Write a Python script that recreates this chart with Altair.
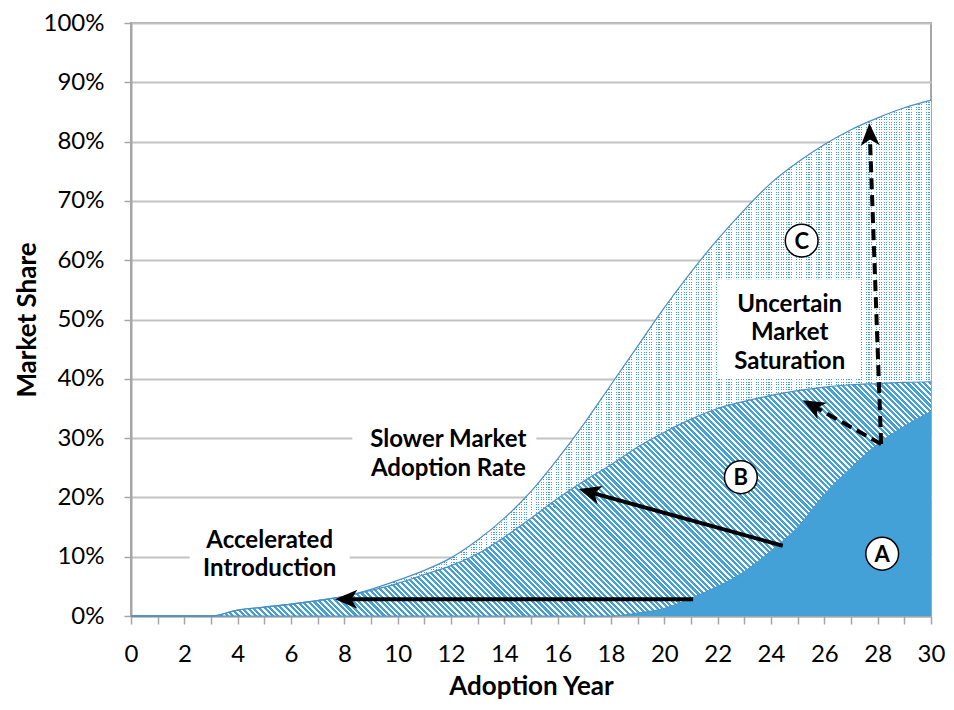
import math
import altair as alt
import pandas as pd

# ---------------- data ----------------
years = list(range(0, 31))
# cumulative (stacked) curve tops, in percent
a_top = [0, 0, 0, 0, 0, 0, 0, 0, 0, 0, 0, 0, 0, 0, 0, 0, 0, 0, 0, 0.5, 1.3,
         3.0, 5.0, 7.5, 11.0, 15.0, 20.5, 25.0, 29.0, 32.0, 34.5]
b_top = [0, 0, 0, 0, 1.0, 1.5, 2.0, 2.6, 3.3, 4.3, 5.5, 7.0, 8.5, 10.5, 13.3,
         16.5, 19.8, 22.8, 25.5, 28.5, 31.0, 33.2, 35.0, 36.2, 37.2, 38.0,
         38.6, 39.0, 39.2, 39.4, 39.5]
c_top = [0, 0, 0, 0, 1.0, 1.5, 2.0, 2.6, 3.3, 4.5, 6.0, 7.7, 9.8, 12.8, 16.5,
         21.0, 26.5, 32.5, 39.0, 45.5, 52.0, 58.0, 63.5, 68.5, 73.0, 76.5,
         79.5, 82.0, 84.0, 85.7, 87.0]

# annotation text lines
note_text = ["Slower Market", "Adoption Rate", "Accelerated", "Introduction",
             "Uncertain", "Market", "Saturation"]
note_x = [11.9, 11.9, 5.2, 5.2, 24.7, 24.7, 24.7]
note_y = [29.6, 24.8, 12.7, 8.0, 52.4, 47.7, 42.9]

# white boxes behind annotations (x0, x1, y0, y1)
box_x = [8.3, 2.2, 22.0]
box_x2 = [15.2, 8.2, 27.35]
box_y = [22.6, 5.3, 40.0]
box_y2 = [33.0, 15.6, 56.8]

# circled labels
circ_label = ["A", "B", "C"]
circ_x = [28.17, 22.87, 25.15]
circ_y = [10.5, 23.4, 63.3]

# arrows: tail -> tip
arr_x = [21.08, 24.44, 28.13, 28.13]
arr_y = [2.84, 11.85, 29.0, 29.0]
arr_tx = [7.65, 16.79, 25.19, 27.69]
arr_ty = [2.84, 21.4, 36.4, 83.1]
arr_dash = [False, False, True, True]

# ---------------- layout ----------------
W, H = 800, 593
PXX = W / 30.0
PXY = H / 100.0

BLUE = "#44A1D8"
EDGE = "#4A8FC2"
FONT = "Lato"


def stripes(c1, c2, length, period, frac, x1, y1, x2, y2):
    """Hard-edged repeating stripes along the gradient vector (period in px)."""
    stops = []
    k = 0
    while True:
        a = k * period / length
        if a >= 1:
            break
        b = min(1.0, (k + frac) * period / length)
        c = min(1.0, (k + 1) * period / length)
        stops += [{"offset": round(a, 6), "color": c1},
                  {"offset": round(b, 6), "color": c1},
                  {"offset": round(b, 6), "color": c2},
                  {"offset": round(c, 6), "color": c2}]
        k += 1
    return {"gradient": "linear", "x1": x1, "y1": y1, "x2": x2, "y2": y2,
            "stops": stops}


def diag_hatch(bw, bh, period, c1, c2, frac):
    s = (bw + bh) / (bw * bw + bh * bh)
    return stripes(c1, c2, bw + bh, period, frac, 0, 1, s * bw, 1 - s * bh)


x_axis = alt.Axis(values=list(range(0, 31)),
                  labelExpr="datum.value % 2 == 0 ? datum.label : ''",
                  tickSize=8, tickColor="#A6A6A6", tickWidth=1.5,
                  domainColor="#A6A6A6", domainWidth=2,
                  labelFont=FONT, labelFontSize=24, labelColor="black",
                  labelPadding=18, labelFlush=False, labelOverlap=False,
                  title="Adoption Year", titleFont=FONT, titleFontSize=26,
                  titleFontWeight="bold", titleColor="black",
                  titleX=W / 2, titleY=70, titleBaseline="middle",
                  titleAlign="center", grid=False)
y_axis = alt.Axis(values=list(range(0, 101, 10)),
                  labelExpr="datum.value + '%'",
                  tickSize=7, tickColor="#A6A6A6", tickWidth=1.5,
                  domainColor="#A6A6A6", domainWidth=2,
                  labelFont=FONT, labelFontSize=24, labelColor="black",
                  labelPadding=20, labelFlush=False, labelOverlap=False,
                  title="Market Share", titleFont=FONT, titleFontSize=26,
                  titleFontWeight="bold", titleColor="black",
                  titleX=-104, titleY=H / 2, titleAngle=270,
                  titleBaseline="middle", titleAlign="center",
                  grid=True, gridColor="#C3C3C3", gridWidth=2)

xs = alt.Scale(domain=[0, 30], nice=False, zero=False)
ys = alt.Scale(domain=[0, 100], nice=False)


def X(f):
    return alt.X(f, type="quantitative", scale=xs, axis=x_axis)


def Y(f):
    return alt.Y(f, type="quantitative", scale=ys, axis=y_axis)


curves = pd.DataFrame({"year": years, "a": a_top, "b": b_top, "c": c_top,
                       "zero": [0] * len(years)})

area_a = alt.Chart(curves).mark_area(color=BLUE, interpolate="monotone").encode(
    x=X("year"), y=Y("zero"), y2="a")

hb = max(b_top) * PXY
area_b = alt.Chart(curves).mark_area(
    interpolate="monotone",
    color=diag_hatch(W, hb, 5.6, BLUE, "#FFFFFF", 0.56)).encode(
    x=X("year"), y=Y("a"), y2="b")

hc = max(c_top) * PXY
area_c = alt.Chart(curves).mark_area(
    interpolate="monotone",
    color=stripes(BLUE, "#FFFFFF", W, 2.5, 0.4, 0, 0, 1, 0)).encode(
    x=X("year"), y=Y("b"), y2="c")
area_c2 = alt.Chart(curves).mark_area(
    interpolate="monotone",
    color=stripes("#FFFFFF", "rgba(255,255,255,0)", hc, 2.5, 0.6, 0, 0, 0, 1)).encode(
    x=X("year"), y=Y("b"), y2="c")

line_c = alt.Chart(curves).mark_line(color=EDGE, strokeWidth=1.2, interpolate="monotone").encode(
    x=X("year"), y=Y("c"))
line_b = alt.Chart(curves).mark_line(color=EDGE, strokeWidth=1.2, interpolate="monotone").encode(
    x=X("year"), y=Y("b"))
line_a = alt.Chart(curves).mark_line(color=EDGE, strokeWidth=1.0, interpolate="monotone").encode(
    x=X("year"), y=Y("a"))

boxes = pd.DataFrame({"x": box_x, "x2": box_x2, "y": box_y, "y2": box_y2})
box_layer = alt.Chart(boxes).mark_rect(color="white").encode(
    x=X("x"), x2="x2", y=Y("y"), y2="y2")

notes = pd.DataFrame({"t": note_text, "x": note_x, "y": note_y})
note_layer = alt.Chart(notes).mark_text(
    font=FONT, fontSize=24, fontWeight="bold", color="black",
    align="center", baseline="middle").encode(x=X("x"), y=Y("y"), text="t:N")

# arrows
rows = []
for xt, yt, xh, yh, d in zip(arr_x, arr_y, arr_tx, arr_ty, arr_dash):
    dx = (xh - xt) * PXX
    dy = -(yh - yt) * PXY
    L = math.hypot(dx, dy)
    ux, uy = dx / L, dy / L
    back = 15.0
    xe = xh - back * ux / PXX
    ye = yh + back * uy / PXY
    ang = math.degrees(math.atan2(dx, -dy)) % 360
    rows.append({"x": xt, "y": yt, "xe": xe, "ye": ye, "xh": xh, "yh": yh,
                 "ang": ang, "dash": d})
arrows = pd.DataFrame(rows)

solid_rules = alt.Chart(arrows[~arrows["dash"]]).mark_rule(
    color="black", strokeWidth=4, strokeCap="butt").encode(
    x=X("x"), y=Y("y"), x2="xe", y2="ye")
dash_rules = alt.Chart(arrows[arrows["dash"]]).mark_rule(
    color="black", strokeWidth=4, strokeCap="butt", strokeDash=[11, 6]).encode(
    x=X("x"), y=Y("y"), x2="xe", y2="ye")
heads = alt.Chart(arrows).mark_point(
    shape="M0,0 L0.85,2.0 L0,1.45 L-0.85,2.0 Z", size=500,
    filled=True, color="black", opacity=1).encode(
    x=X("xh"), y=Y("yh"), angle=alt.Angle("ang:Q", scale=None))

circ = pd.DataFrame({"t": circ_label, "x": circ_x, "y": circ_y})
circ_layer = alt.Chart(circ).mark_point(
    shape="circle", size=1075, filled=True, fill="white", stroke="black",
    strokeWidth=1.5, opacity=1).encode(x=X("x"), y=Y("y"))
circ_text = alt.Chart(circ).mark_text(
    font=FONT, fontSize=22, fontWeight="bold", color="black",
    align="center", baseline="middle", dy=1).encode(x=X("x"), y=Y("y"), text="t:N")

chart = alt.layer(
    area_a, area_b, area_c, area_c2, line_a, line_b, line_c,
    box_layer, note_layer, solid_rules, dash_rules, heads, circ_layer, circ_text
).properties(
    width=W, height=H,
    autosize=alt.AutoSizeParams(type="none"),
    padding={"left": 123, "top": 15, "right": 15, "bottom": 86},
    background="white",
).configure_view(stroke="#A6A6A6", strokeWidth=2)

chart.save("out.html", embed_options={"renderer": "svg", "actions": False})
